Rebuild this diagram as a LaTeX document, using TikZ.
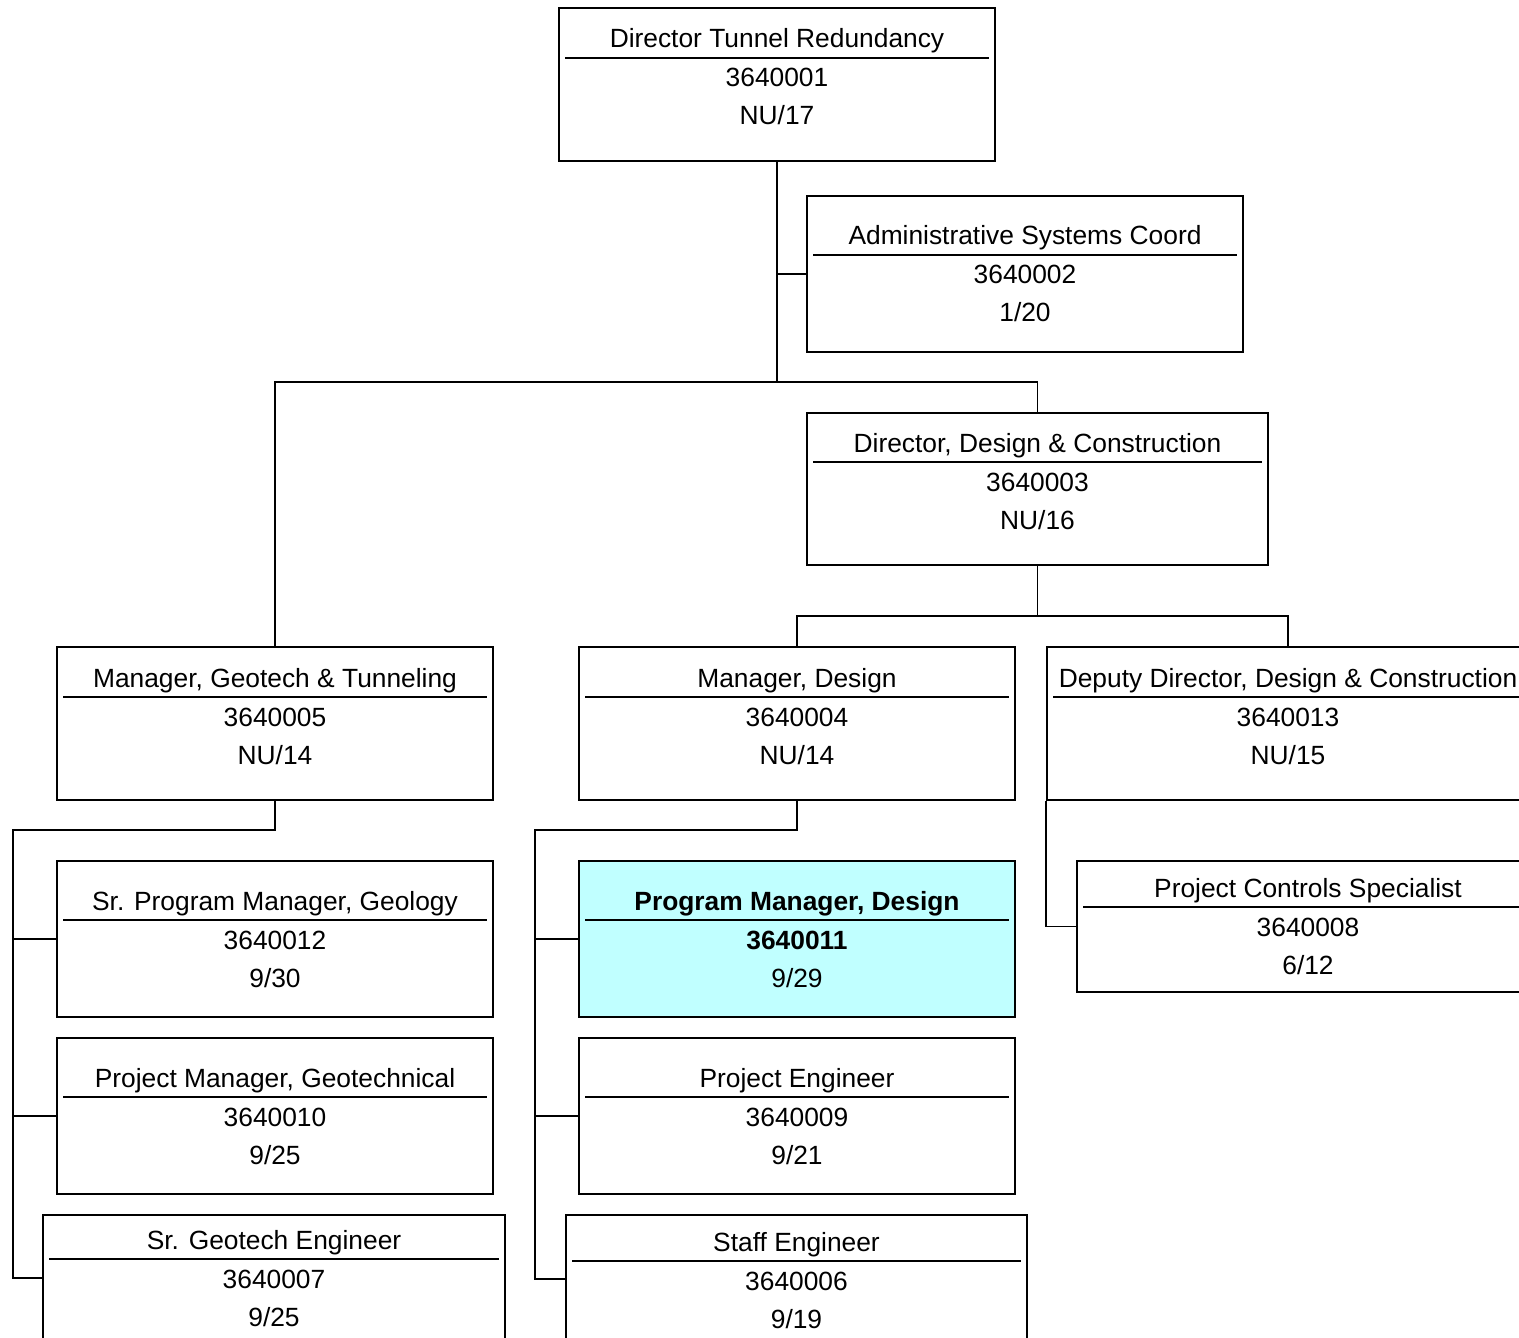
\documentclass[tikz,border=0pt]{standalone}
\usepackage{fontspec}
\setmainfont{Liberation Sans}
\usetikzlibrary{fit}
\definecolor{hlcyan}{HTML}{C0FFFF}
\newcommand{\orgbox}[8][]{%
\node[posbox,#1,fit={(#3) (#4)}] (#2) {};
\draw[shorten <=0.14cm,shorten >=0.14cm] (#2.west |- 0,#5) -- (#2.east |- 0,#5);
\node[anchor=base] (#2-title) at (#2.center |- 0,#5-10) {#6};
\node[anchor=base] (#2-id) at (#2.center |- 0,#5+29) {#7};
\node[anchor=base] (#2-code) at (#2.center |- 0,#5+67) {#8};
}

\begin{document}
\begin{tikzpicture}[x=0.02cm,y=-0.02cm,line width=1.1pt]
\tikzstyle{every node}+=[font=\fontsize{15}{17}\selectfont]
\tikzstyle{posbox}=[draw,line width=1.1pt,inner sep=0pt]
\useasboundingbox (0,0) rectangle (1519,1338);
\clip (0,0) rectangle (1519,1338);
\orgbox{dtr}{559,8}{995,161}{58}{Director Tunnel Redundancy}{3640001}{NU/17}
\orgbox{asc}{807,196}{1243,352}{255}{Administrative Systems Coord}{3640002}{1/20}
\orgbox{ddc}{807,413}{1268,565}{462}{Director, Design \& Construction}{3640003}{NU/16}
\orgbox{mgt}{57,647}{493,800}{697}{Manager, Geotech \& Tunneling}{3640005}{NU/14}
\orgbox{md}{579,647}{1015,800}{697}{Manager, Design}{3640004}{NU/14}
\orgbox{dd}{1047,647}{1529,800}{697}{Deputy Director, Design \& Construction}{3640013}{NU/15}
\orgbox{pcs}{1077,861}{1539,992}{907}{Project Controls Specialist}{3640008}{6/12}
\orgbox{spm}{57,861}{493,1017}{920}{Sr. Program Manager, Geology}{3640012}{9/30}
\orgbox[fill=hlcyan]{pmd}{579,861}{1015,1017}{920}{\textbf{Program Manager, Design}}{\textbf{3640011}}{9/29}
\orgbox{pmg}{57,1038}{493,1194}{1097}{Project Manager, Geotechnical}{3640010}{9/25}
\orgbox{pe}{579,1038}{1015,1194}{1097}{Project Engineer}{3640009}{9/21}
\orgbox{sge}{43,1215}{505,1341}{1259}{Sr. Geotech Engineer}{3640007}{9/25}
\orgbox{se}{566,1215}{1027,1343}{1261}{Staff Engineer}{3640006}{9/19}
\coordinate (gbus) at (13,830);
\coordinate (dbus) at (535,830);
\draw (dtr.south) -- (dtr.south |- 0,382);
\draw (dtr.south |- asc.west) -- (asc.west);
\draw (mgt.north) |- (ddc.north |- 0,382) -- (ddc.north);
\draw (ddc.south) -- (ddc.south |- 0,616);
\draw (md.north) |- (dd.north |- 0,616) -- (dd.north);
\draw (mgt.south) |- (gbus) |- (sge.west);
\draw (gbus |- spm.west) -- (spm.west);
\draw (gbus |- pmg.west) -- (pmg.west);
\draw (md.south) |- (dbus) |- (se.west);
\draw (dbus |- pmd.west) -- (pmd.west);
\draw (dbus |- pe.west) -- (pe.west);
\draw (dd.south west) |- (pcs.west);
\end{tikzpicture}
\end{document}
